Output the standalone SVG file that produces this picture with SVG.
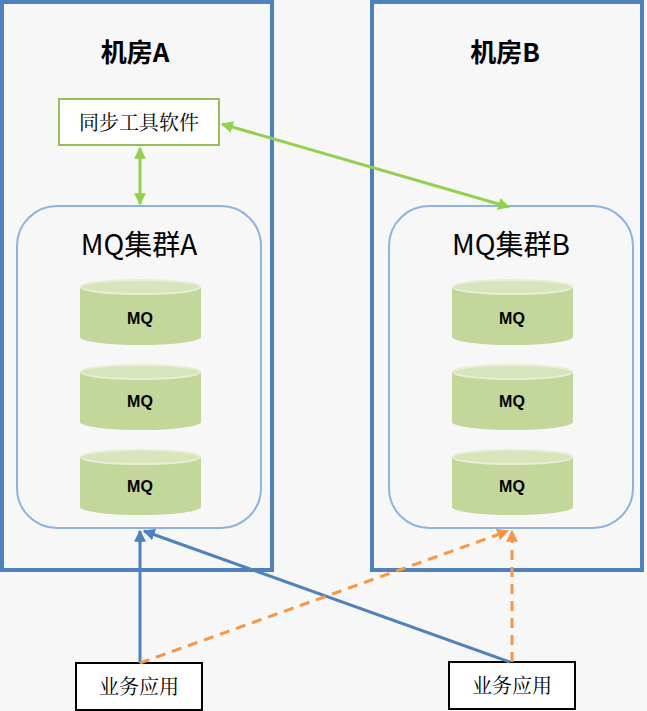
<svg xmlns="http://www.w3.org/2000/svg" width="647" height="711" viewBox="0 0 647 711">
<defs>
<style>
.room{fill:none;stroke:#4f81bd;stroke-width:4}
.cl{fill:#f7f7f7;stroke:#8db3e2;stroke-width:2}
.title{font-family:"Noto Sans CJK SC",sans-serif;font-weight:bold;font-size:26px;text-anchor:middle}
.ctitle{font-family:"Noto Sans CJK SC",sans-serif;font-size:28px;text-anchor:middle}
.cb{fill:#c4d79b}
.ct{fill:#d8e4bc;stroke:#e6eed5;stroke-width:2}
.mq{font-family:"Liberation Sans",sans-serif;font-weight:bold;font-size:16px;text-anchor:middle}
.box{fill:#fff;stroke:#000;stroke-width:2}
.bt{font-family:"Noto Serif CJK SC","Noto Sans CJK SC",serif;font-size:20px;text-anchor:middle}
.g{stroke:#92d050;stroke-width:3;fill:none}
.b{stroke:#4f81bd;stroke-width:3;fill:none}
.o{stroke:#f79646;stroke-width:3;fill:none;stroke-dasharray:10,7}
</style>
<marker id="ga" viewBox="0 0 10 10" refX="9" refY="5" markerWidth="4" markerHeight="4" orient="auto-start-reverse"><path d="M0,0L10,5L0,10z" fill="#92d050"/></marker>
<marker id="ba" viewBox="0 0 10 10" refX="9" refY="5" markerWidth="4" markerHeight="4" orient="auto"><path d="M0,0L10,5L0,10z" fill="#4f81bd"/></marker>
<marker id="oa" viewBox="0 0 10 10" refX="9" refY="5" markerWidth="4" markerHeight="4" orient="auto"><path d="M0,0L10,5L0,10z" fill="#f79646"/></marker>
<g id="cyl"><rect class="cb" x="0" y="0" width="121" height="50"/><ellipse class="cb" cx="60.5" cy="50" rx="60.5" ry="8"/><ellipse class="ct" cx="60.5" cy="0" rx="59.5" ry="7"/></g>
</defs>
<rect width="647" height="711" fill="#f7f7f7"/>
<g id="roomA"><rect class="room" x="2" y="2" width="270" height="568"/><text class="title" x="135" y="62">机房A</text></g>
<g id="roomB"><rect class="room" x="372" y="2" width="270" height="568"/><text class="title" x="505" y="62">机房B</text></g>
<g id="sync"><rect x="59" y="99" width="160" height="46" fill="#fff" stroke="#9bbb59" stroke-width="2"/><text class="bt" x="139" y="130">同步工具软件</text></g>
<g id="clusterA"><rect class="cl" x="17" y="206" width="244" height="322" rx="40"/><text class="ctitle" x="139" y="255">MQ集群A</text>
<use href="#cyl" x="80" y="287"/><text class="mq" x="140" y="324">MQ</text>
<use href="#cyl" x="80" y="372"/><text class="mq" x="140" y="407">MQ</text>
<use href="#cyl" x="80" y="457"/><text class="mq" x="140" y="492">MQ</text></g>
<g id="clusterB"><rect class="cl" x="389" y="206" width="244" height="322" rx="40"/><text class="ctitle" x="511" y="255">MQ集群B</text>
<use href="#cyl" x="452" y="287"/><text class="mq" x="512" y="324">MQ</text>
<use href="#cyl" x="452" y="372"/><text class="mq" x="512" y="407">MQ</text>
<use href="#cyl" x="452" y="457"/><text class="mq" x="512" y="492">MQ</text></g>
<g id="appA"><rect class="box" x="76" y="663" width="126" height="47"/><text class="bt" x="139" y="694">业务应用</text></g>
<g id="appB"><rect class="box" x="449" y="662" width="126" height="47"/><text class="bt" x="512" y="693">业务应用</text></g>
<g id="connectors">
<line class="g" x1="140" y1="148" x2="140" y2="204" marker-start="url(#ga)" marker-end="url(#ga)"/>
<line class="g" x1="222" y1="124" x2="509" y2="207" marker-start="url(#ga)" marker-end="url(#ga)"/>
<line class="b" x1="140" y1="663" x2="140" y2="531" marker-end="url(#ba)"/>
<line class="b" x1="510" y1="662" x2="144" y2="531" marker-end="url(#ba)"/>
<line class="o" x1="140" y1="663" x2="508" y2="531" marker-end="url(#oa)"/>
<line class="o" x1="512" y1="662" x2="512" y2="531" marker-end="url(#oa)"/>
</g>
</svg>
